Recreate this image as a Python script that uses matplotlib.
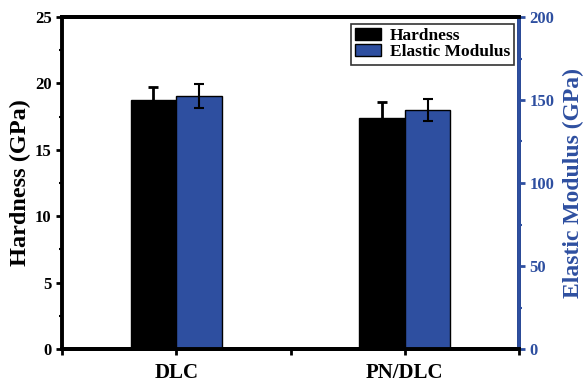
import matplotlib
matplotlib.use('Agg')
import matplotlib.pyplot as plt
from matplotlib.ticker import MultipleLocator

plt.rcParams['font.family'] = ['Liberation Serif', 'DejaVu Serif']
plt.rcParams['font.weight'] = 'bold'

# data
samples = ['DLC', 'PN/DLC']
hardness = [18.75, 17.4]
hardness_err = [1.0, 1.2]
modulus = [152.5, 144.0]
modulus_err = [7.3, 6.5]

blue = '#2e4fa0'
pos = [1, 3]
w = 0.4

fig = plt.figure(figsize=(5.87, 3.87), dpi=100)
ax = fig.add_axes([62/587, 1-349/387, (519-62)/587, (349-17)/387])
ax2 = ax.twinx()

ax.bar([p - w/2 for p in pos], hardness, w, color='black', edgecolor='black',
       yerr=hardness_err, error_kw=dict(ecolor='black', elinewidth=2, capsize=3.5, capthick=2),
       label='Hardness')
ax2.bar([p + w/2 for p in pos], modulus, w, color=blue, edgecolor='black', linewidth=1.0,
        yerr=modulus_err, error_kw=dict(ecolor='black', elinewidth=1.5, capsize=3.5, capthick=1.5),
        label='Elastic Modulus')

ax.set_xlim(0, 4)
ax.set_ylim(0, 25)
ax2.set_ylim(0, 200)
ax.set_xticks([0, 1, 2, 3, 4])
ax.yaxis.set_major_locator(MultipleLocator(5))
ax.yaxis.set_minor_locator(MultipleLocator(2.5))
ax2.yaxis.set_major_locator(MultipleLocator(50))
ax2.yaxis.set_minor_locator(MultipleLocator(25))

ax.set_ylabel('Hardness (GPa)', fontsize=17.5, fontweight='bold', labelpad=3)
ax2.set_ylabel('Elastic Modulus (GPa)', fontsize=17, fontweight='bold', color=blue, labelpad=6)

for s in ax.spines.values():
    s.set_linewidth(2.8)
for s in ax2.spines.values():
    s.set_linewidth(2.8)
ax2.spines['right'].set_color(blue)
ax2.spines['left'].set_visible(False)

ax.tick_params(axis='both', which='major', direction='out', length=4, width=2, labelsize=12)
ax.tick_params(axis='x', labelsize=15, pad=6)
ax.tick_params(axis='y', which='minor', direction='out', length=2.5, width=1.5)
ax2.tick_params(axis='y', which='major', direction='out', length=4, width=2, labelsize=12,
                colors=blue)
ax2.tick_params(axis='y', which='minor', direction='out', length=2.5, width=1.5, colors=blue)
ax.set_xticklabels(['', samples[0], '', samples[1], ''])
for lab in ax.get_yticklabels() + ax2.get_yticklabels() + ax.get_xticklabels():
    lab.set_fontweight('bold')

h1, l1 = ax.get_legend_handles_labels()
h2, l2 = ax2.get_legend_handles_labels()
leg = ax2.legend(h1 + h2, l1 + l2, loc='upper right', bbox_to_anchor=(0.99, 0.98),
                 fontsize=12.5, frameon=True, fancybox=False, edgecolor='black',
                 handlelength=1.5, handleheight=0.7, labelspacing=0.0, borderpad=0.25,
                 handletextpad=0.5, borderaxespad=0.0)
leg.get_frame().set_linewidth(1.2)
for t in leg.get_texts():
    t.set_fontweight('bold')

plt.savefig('out.png', dpi=100)
plt.close()
